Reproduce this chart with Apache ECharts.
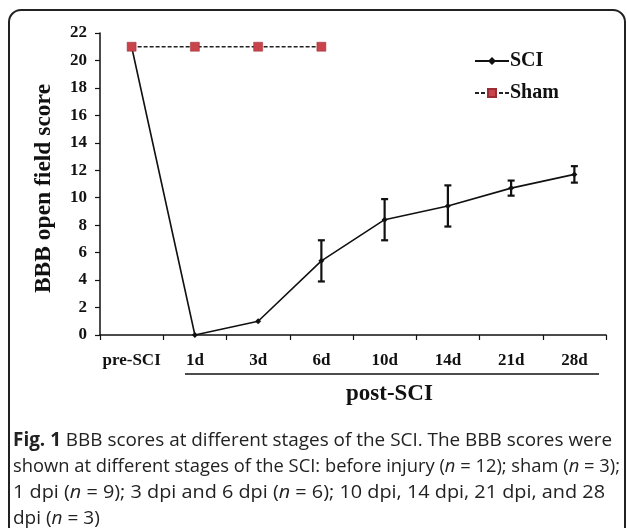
<!DOCTYPE html>
<html>
<head>
<meta charset="utf-8">
<script src="https://cdn.jsdelivr.net/npm/echarts@6/dist/echarts.min.js"></script>
<style>
  html, body { margin: 0; padding: 0; background: #fff; }
  #chart { width: 627px; height: 528px; }
</style>
</head>
<body>
<div id="chart"></div>
<script>
// Time points (categories)
const categories = ['pre-SCI', '1d', '3d', '6d', '10d', '14d', '21d', '28d'];
// BBB scores for the injured group and their error (SD)
const sciScores = [21, 0, 1, 5.4, 8.4, 9.4, 10.7, 11.7];
const sciErrors = [0, 0, 0, 1.5, 1.5, 1.5, 0.55, 0.6];
// Sham group, measured up to 6 d
const shamScores = [21, 21, 21, 21];
// Y axis ticks
const yTicks = { min: 0, max: 22, step: 2 };

// Figure caption, one entry per line ({b|..} bold, {i|..} italic)
const captionLines = [
  '{b|Fig. 1} BBB scores at different stages of the SCI. The BBB scores were',
  'shown at different stages of the SCI: before injury ({i|n} = 12); sham ({i|n} = 3);',
  '1 dpi ({i|n} = 9); 3 dpi and 6 dpi ({i|n} = 6); 10 dpi, 14 dpi, 21 dpi, and 28',
  'dpi ({i|n} = 3)'
];
// right edge each caption line is set to (null = natural width)
const captionRight = [612, 620, 605, null];

const serif = '"Liberation Serif", "Times New Roman", serif';
const sans = '"Open Sans", "Noto Sans", sans-serif';
const capSize = 19;
const capLeft = 13;

// measure a rich caption line with the same fonts used to draw it
const measureCtx = document.createElement('canvas').getContext('2d');
function richWidth(line) {
  let w = 0;
  const re = /\{(\w)\|([^}]*)\}|([^{]+)/g;
  let m;
  while ((m = re.exec(line)) !== null) {
    if (m[3] !== undefined) {
      measureCtx.font = capSize + 'px ' + sans;
      w += measureCtx.measureText(m[3]).width;
    } else {
      const style = m[1] === 'b' ? 'bold ' : 'italic ';
      measureCtx.font = style + capSize + 'px ' + sans;
      w += measureCtx.measureText(m[2]).width;
    }
  }
  return w;
}

const chart = echarts.init(document.getElementById('chart'), null, { renderer: 'canvas' });

const errorData = categories.map((c, i) => [i, sciScores[i] - sciErrors[i], sciScores[i] + sciErrors[i], sciErrors[i]])
  .filter(d => d[3] > 0);

function buildOption() {
  const captionGraphics = captionLines.map((line, k) => {
    const natural = richWidth(line);
    const sx = captionRight[k] ? (captionRight[k] - capLeft) / natural : 1;
    return {
      type: 'text',
      x: capLeft,
      y: 431 + k * 26,
      scaleX: sx,
      style: {
        text: line,
        font: capSize + 'px ' + sans,
        fill: '#222',
        rich: {
          b: { font: 'bold ' + capSize + 'px ' + sans, fill: '#222' },
          i: { font: 'italic ' + capSize + 'px ' + sans, fill: '#222' }
        }
      }
    };
  });

  return {
    backgroundColor: '#fff',
    animation: false,
    grid: { left: 100, right: 21, top: 33, bottom: 193, containLabel: false },
    legend: {
      orient: 'vertical',
      left: 469,
      top: 46,
      itemWidth: 34,
      itemHeight: 10,
      itemGap: 12,
      textStyle: { fontFamily: serif, fontWeight: 'bold', fontSize: 20, color: '#111', padding: [0, 0, 0, -4] },
      data: ['SCI', 'Sham']
    },
    xAxis: {
      type: 'category',
      data: categories,
      boundaryGap: true,
      axisLine: { lineStyle: { color: '#111', width: 1.5 } },
      axisTick: { show: true, inside: false, length: 5, lineStyle: { color: '#111', width: 1.2 } },
      axisLabel: { interval: 0, margin: 17, fontFamily: serif, fontWeight: 'bold', fontSize: 17, color: '#111' }
    },
    yAxis: {
      type: 'value',
      min: yTicks.min,
      max: yTicks.max,
      interval: yTicks.step,
      name: 'BBB open field score',
      nameLocation: 'middle',
      nameGap: 44,
      nameTextStyle: { fontFamily: serif, fontWeight: 'bold', fontSize: 23.5, color: '#111', padding: [0, 9, 0, 0] },
      splitLine: { show: false },
      axisLine: { show: true, lineStyle: { color: '#111', width: 1.5 } },
      axisTick: { show: true, inside: false, length: 5, lineStyle: { color: '#111', width: 1.2 } },
      axisLabel: { margin: 13, fontFamily: serif, fontWeight: 'bold', fontSize: 17, color: '#111' }
    },
    series: [
      {
        name: 'SCI',
        type: 'line',
        data: sciScores,
        symbol: 'diamond',
        symbolSize: 6,
        lineStyle: { color: '#111', width: 1.6 },
        itemStyle: { color: '#111' },
        z: 3
      },
      {
        name: 'error',
        type: 'custom',
        data: errorData,
        renderItem: function (params, api) {
          const x = api.value(0);
          const lo = api.coord([x, api.value(1)]);
          const hi = api.coord([x, api.value(2)]);
          const cap = 3.5;
          const style = { stroke: '#111', lineWidth: 2.2 };
          return {
            type: 'group',
            children: [
              { type: 'line', shape: { x1: lo[0], y1: lo[1], x2: hi[0], y2: hi[1] }, style },
              { type: 'line', shape: { x1: hi[0] - cap, y1: hi[1], x2: hi[0] + cap, y2: hi[1] }, style },
              { type: 'line', shape: { x1: lo[0] - cap, y1: lo[1], x2: lo[0] + cap, y2: lo[1] }, style }
            ]
          };
        },
        z: 4
      },
      {
        name: 'Sham',
        type: 'line',
        data: shamScores,
        symbol: 'rect',
        symbolSize: 9,
        lineStyle: { color: '#222', width: 1.4, type: [4, 2] },
        itemStyle: { color: '#c8434a', borderColor: '#9a2c33', borderWidth: 0.5 },
        z: 5
      }
    ],
    graphic: [
      {
        type: 'rect',
        shape: { x: 9, y: 10, width: 616, height: 560, r: 12 },
        style: { fill: 'none', stroke: '#222', lineWidth: 2 },
        silent: true
      },
      {
        type: 'line',
        shape: { x1: 185, y1: 374, x2: 599, y2: 374 },
        style: { stroke: '#111', lineWidth: 1.5 }
      },
      {
        type: 'text',
        left: 346,
        top: 383,
        style: { text: 'post-SCI', font: 'bold 23px ' + serif, fill: '#111' }
      }
    ].concat(captionGraphics)
  };
}

chart.setOption(buildOption());
</script>
</body>
</html>
